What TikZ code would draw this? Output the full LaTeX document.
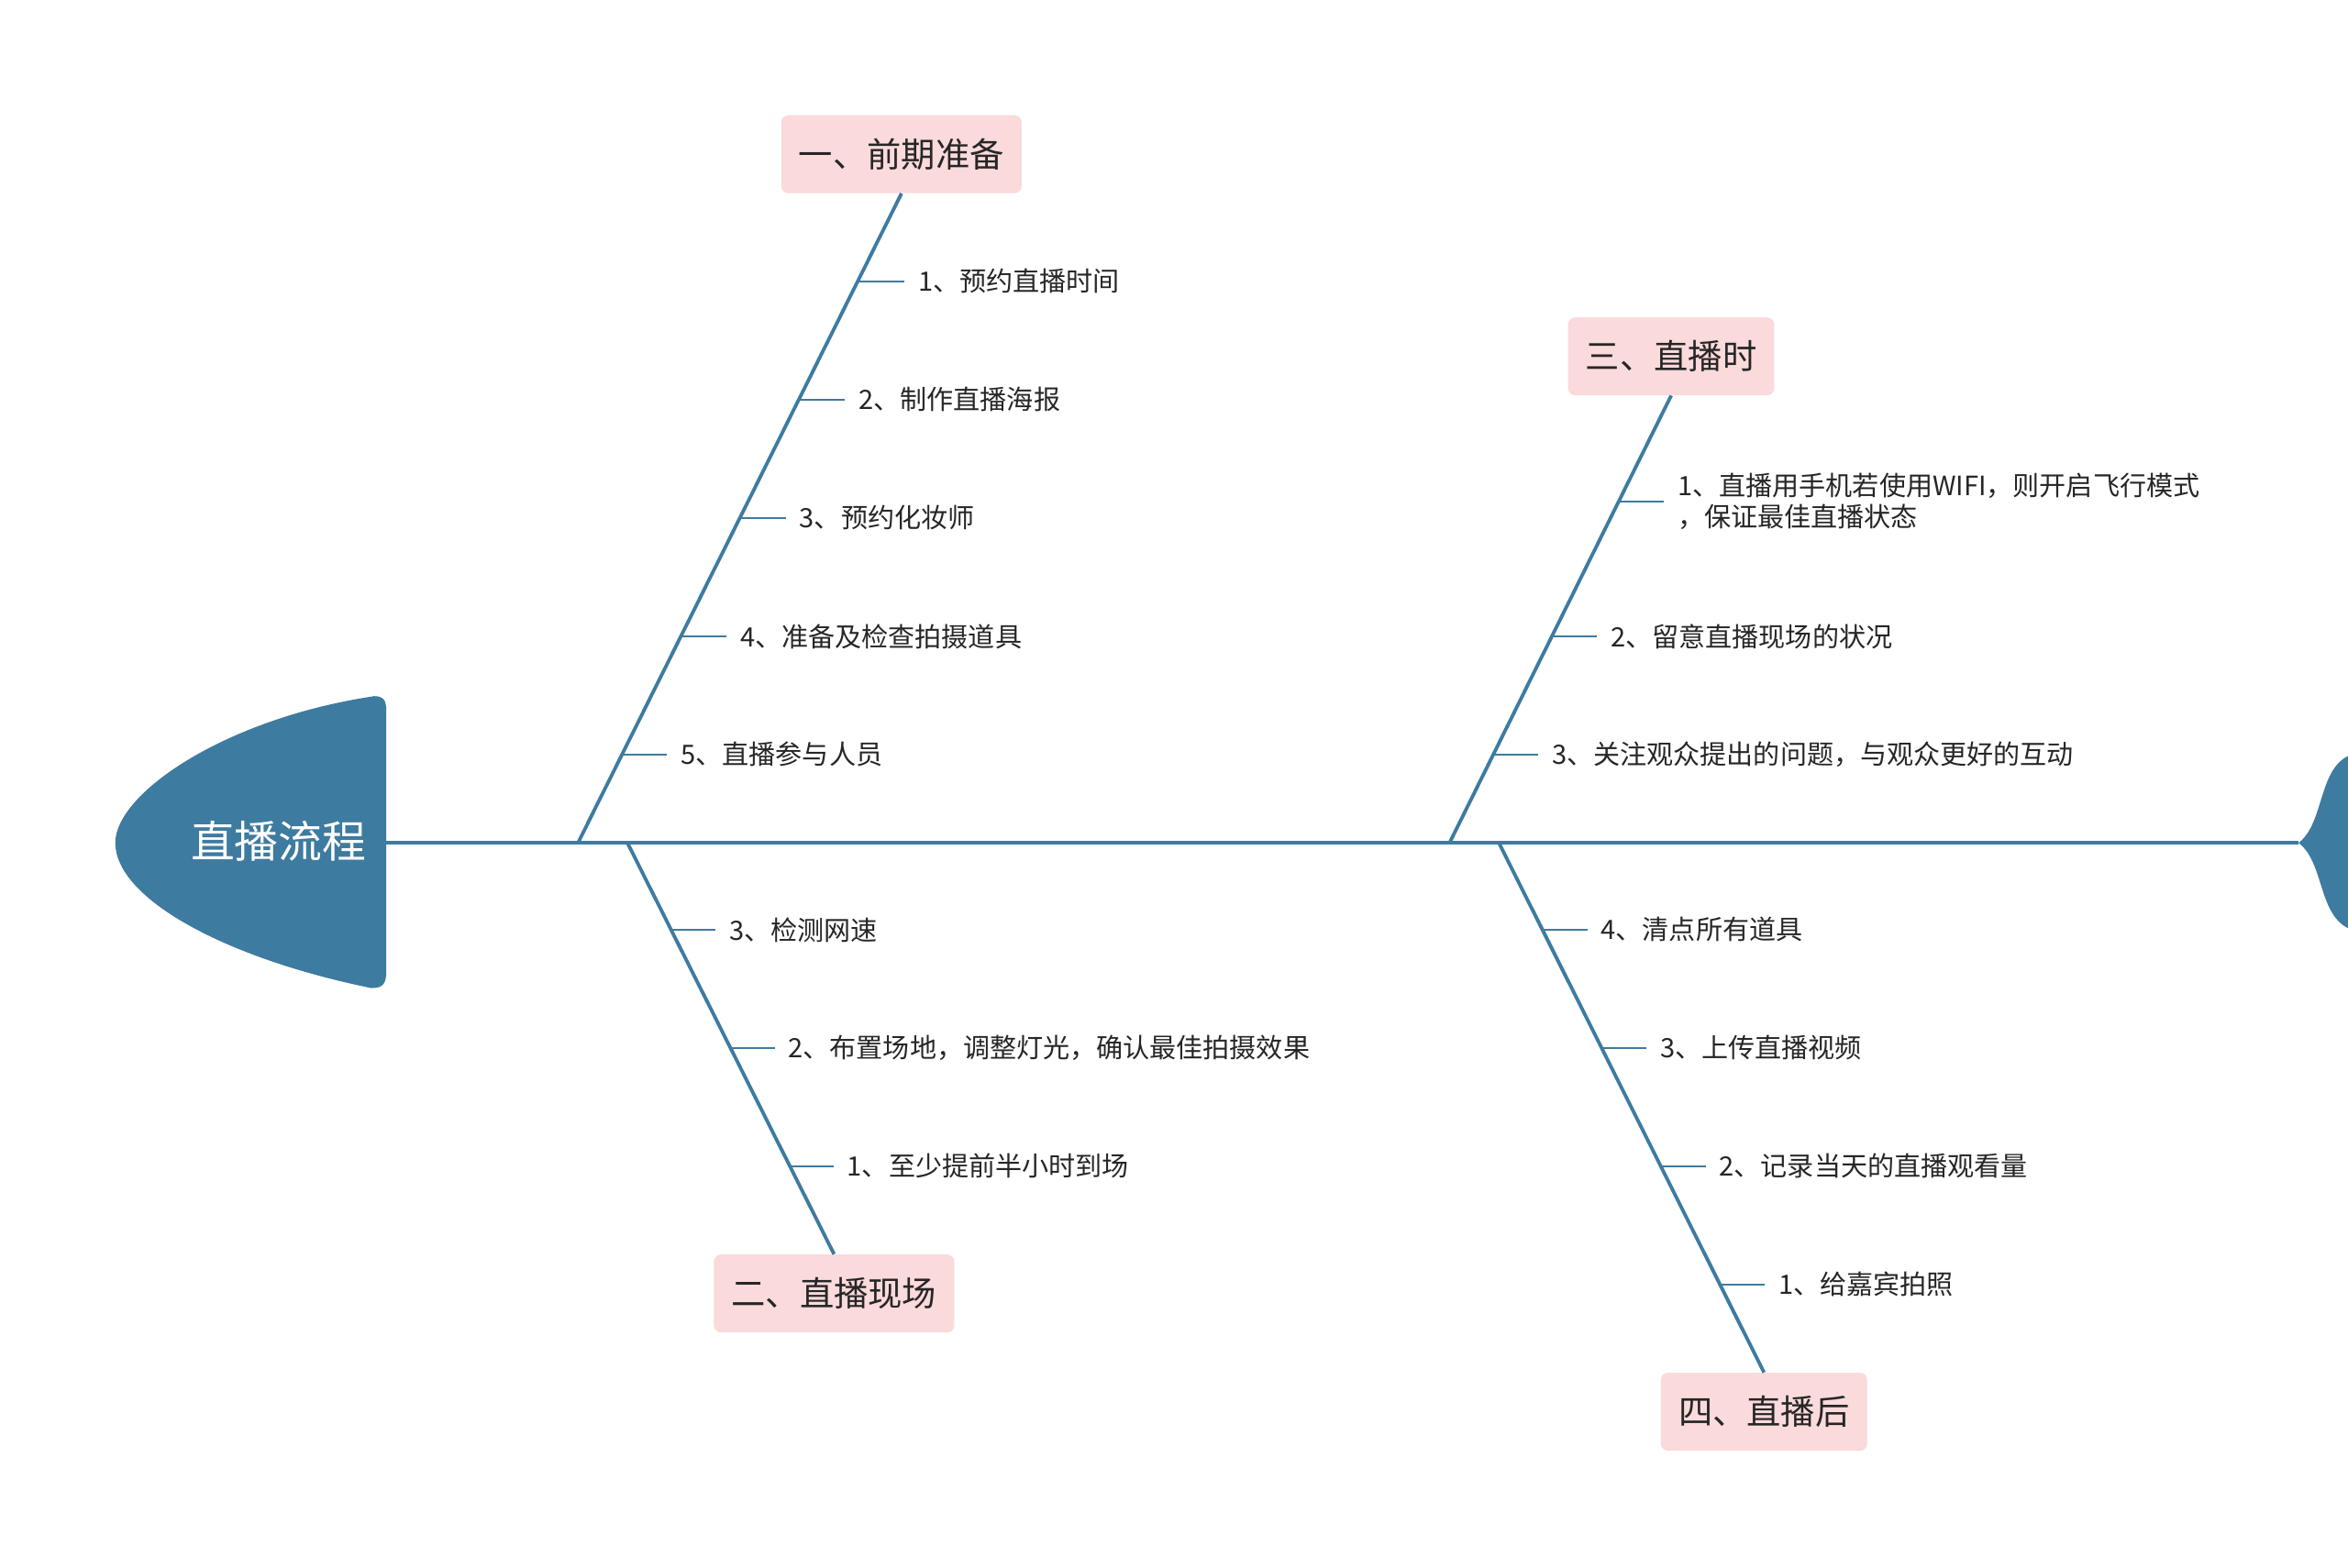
\documentclass[tikz,border=0pt]{standalone}
\usepackage{fontspec}
\setmainfont{Noto Sans CJK SC}
\begin{document}
\begin{tikzpicture}[x=0.03cm,y=-0.03cm,
  bone/.style={draw=fishblue, line width=2pt},
  tick/.style={draw=fishblue, line width=1pt},
  lbl/.style={fill=pinkbox, rounded corners=4pt, font=\fontsize{19.5}{22}\selectfont, text=black!85, minimum height=52*0.03cm, inner xsep=10pt},
  item/.style={anchor=west, font=\fontsize{15.2}{18}\selectfont, text=black!85, inner sep=0pt, align=left}]
\definecolor{fishblue}{HTML}{3E7BA0}
\definecolor{pinkbox}{HTML}{FADADB}
\useasboundingbox (0,0) rectangle (1568,1047);
\fill[white] (0,0) rectangle (1568,1047);
% head
\fill[fishblue] (250,465) .. controls (258,465) and (258,470) .. (258,478) -- (258,648) .. controls (258,657) and (256,660) .. (248,660)
  .. controls (150,640) and (77,600) .. (77,563) .. controls (77,530) and (150,480) .. (250,465) -- cycle;
\node[text=white, font=\fontsize{25}{30}\selectfont] (head) at (186,562) {直播流程};
% tail
\fill[fishblue] (1535,563) .. controls (1552,550) and (1548,515) .. (1568,505) -- (1568,620) .. controls (1548,610) and (1552,576) .. (1535,563) -- cycle;
\coordinate (hs) at (258,563); \coordinate (te) at (1535,563);
\draw[bone] (hs) -- (te);
% branch coordinates
\coordinate (b1) at (386,563); \coordinate (b3) at (968,563);
\coordinate (b2) at (419,563); \coordinate (b4) at (1001,563);
\node[lbl] (l1) at (602,103) {一、前期准备};
\node[lbl] (l3) at (1116,238) {三、直播时};
\node[lbl] (l2) at (557,864) {二、直播现场};
\node[lbl] (l4) at (1178,943) {四、直播后};
\draw[bone] (b1) -- (l1.south);
\draw[bone] (b3) -- (l3.south);
\draw[bone] (b2) -- (l2.north);
\draw[bone] (b4) -- (l4.north);
% branch 1 items
\foreach \y/\t [count=\i] in {188/{1、预约直播时间},267/{2、制作直播海报},346/{3、预约化妆师},425/{4、准备及检查拍摄道具},504/{5、直播参与人员}}{
  \pgfmathsetmacro\xx{386+(563-\y)*0.5012}
  \coordinate (a\i) at (\xx,\y);
  \coordinate (ae\i) at (\xx+30,\y);
  \draw[tick] (a\i) -- (ae\i);
  \node[item] (at\i) at (\xx+39,\y) {\t};
}
% branch 3 items
\foreach \y/\t [count=\i] in {335/{1、直播用手机若使用WIFI，则开启飞行模式\\，保证最佳直播状态},425/{2、留意直播现场的状况},504/{3、关注观众提出的问题，与观众更好的互动}}{
  \pgfmathsetmacro\xx{968+(563-\y)*0.4966}
  \coordinate (c\i) at (\xx,\y);
  \coordinate (ce\i) at (\xx+30,\y);
  \draw[tick] (c\i) -- (ce\i);
  \node[item] (ct\i) at (\xx+39,\y) {\t};
}
% branch 2 items
\foreach \y/\t [count=\i] in {621/{3、检测网速},700/{2、布置场地，调整灯光，确认最佳拍摄效果},779/{1、至少提前半小时到场}}{
  \pgfmathsetmacro\xx{419+(\y-563)*0.4982}
  \coordinate (d\i) at (\xx,\y);
  \coordinate (de\i) at (\xx+30,\y);
  \draw[tick] (d\i) -- (de\i);
  \node[item] (dt\i) at (\xx+39,\y) {\t};
}
% branch 4 items
\foreach \y/\t [count=\i] in {621/{4、清点所有道具},700/{3、上传直播视频},779/{2、记录当天的直播观看量},858/{1、给嘉宾拍照}}{
  \pgfmathsetmacro\xx{1001+(\y-563)*0.5}
  \coordinate (e\i) at (\xx,\y);
  \coordinate (ee\i) at (\xx+30,\y);
  \draw[tick] (e\i) -- (ee\i);
  \node[item] (et\i) at (\xx+39,\y) {\t};
}
\end{tikzpicture}
\end{document}
